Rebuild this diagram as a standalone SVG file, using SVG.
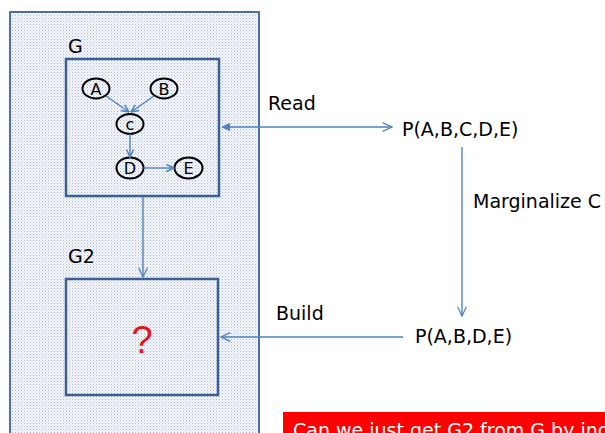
<svg xmlns="http://www.w3.org/2000/svg" width="605" height="433" viewBox="0 0 605 433">
<defs>
<pattern id="dots" width="3" height="3" patternUnits="userSpaceOnUse">
<rect width="3" height="3" fill="#f4f6fa"/>
<rect x="0" y="0" width="1" height="1" fill="#a9bad6"/>
<rect x="1.5" y="1.5" width="1" height="1" fill="#c6d2e6"/>
</pattern>
<marker id="open" viewBox="0 0 10 10" refX="9.5" refY="5" markerWidth="10" markerHeight="10" markerUnits="userSpaceOnUse" orient="auto">
<path d="M2,1.5 L9.5,5 L2,8.5" fill="none" stroke="#4f81bd" stroke-width="1.5"/>
</marker>
<marker id="openL" viewBox="0 0 10 10" refX="9.5" refY="5" markerWidth="11" markerHeight="11" markerUnits="userSpaceOnUse" orient="auto">
<path d="M1,1 L9.5,5 L1,9" fill="none" stroke="#4f81bd" stroke-width="1.1"/>
</marker>
<marker id="start" viewBox="0 0 10 10" refX="0.5" refY="5" markerWidth="9" markerHeight="9" markerUnits="userSpaceOnUse" orient="auto">
<path d="M9,1 L0.5,5 L9,9 Z" fill="#4f81bd" stroke="#4f81bd" stroke-width="1"/>
</marker>
</defs>
<style>
.t{font-family:"DejaVu Sans","Liberation Sans",sans-serif;font-size:19px;fill:#000}
.n{font-family:"DejaVu Sans","Liberation Sans",sans-serif;font-size:16px;fill:#000;text-anchor:middle}
.box{fill:none;stroke:#3d5f91;stroke-width:2.5}
.node{fill:none;stroke:#000;stroke-width:2}
.c{fill:none;stroke:#4f81bd;stroke-width:1.4}
</style>
<rect id="outer" x="10" y="12" width="249" height="440" fill="url(#dots)" stroke="#4f6fa0" stroke-width="2"/>
<g id="G">
<text class="t" x="68" y="53">G</text>
<rect class="box" x="66" y="59" width="153" height="137"/>
</g>
<g id="nodeA"><ellipse class="node" cx="96" cy="88.5" rx="13.5" ry="10"/><text class="n" x="96" y="94.5">A</text></g>
<g id="nodeB"><ellipse class="node" cx="164" cy="88.5" rx="13.5" ry="10"/><text class="n" x="164" y="94.5">B</text></g>
<g id="nodeC"><ellipse class="node" cx="130" cy="124" rx="13.5" ry="10"/><text class="n" x="130" y="130">c</text></g>
<g id="nodeD"><ellipse class="node" cx="130" cy="168" rx="13.5" ry="10.5"/><text class="n" x="130" y="174">D</text></g>
<g id="nodeE"><ellipse class="node" cx="188.5" cy="168" rx="14" ry="10.5"/><text class="n" x="188.5" y="174">E</text></g>
<g id="G2">
<text class="t" x="68" y="263">G2</text>
<rect class="box" x="66" y="279" width="152" height="116"/>
<text x="142" y="353" text-anchor="middle" font-family="Liberation Sans, sans-serif" font-size="38" fill="#e8141c">?</text>
</g>
<g id="PABCDE"><text class="t" x="402" y="136">P(A,B,C,D,E)</text></g>
<g id="PABDE"><text class="t" x="415" y="343">P(A,B,D,E)</text></g>
<g id="labels">
<text class="t" x="268" y="110">Read</text>
<text class="t" x="473" y="208">Marginalize C</text>
<text class="t" x="276" y="320">Build</text>
</g>
<g id="connectors">
<line class="c" x1="106" y1="96" x2="129" y2="112" marker-end="url(#open)"/>
<line class="c" x1="154" y1="96" x2="131" y2="112" marker-end="url(#open)"/>
<line class="c" x1="130" y1="134" x2="130" y2="157" marker-end="url(#open)"/>
<line class="c" x1="143.5" y1="168" x2="174" y2="168" marker-end="url(#open)"/>
<line class="c" x1="143" y1="197" x2="143" y2="277" marker-end="url(#openL)"/>
<line class="c" x1="222" y1="127" x2="392" y2="127" marker-start="url(#start)" marker-end="url(#openL)"/>
<line class="c" x1="462" y1="147" x2="462" y2="316" marker-end="url(#openL)"/>
<line class="c" x1="403" y1="337" x2="221" y2="337" marker-end="url(#openL)"/>
</g>
<g id="note">
<rect x="283" y="412" width="330" height="30" fill="#ff0000"/>
<text x="293" y="437" font-family="DejaVu Sans, Liberation Sans, sans-serif" font-size="19" fill="#fff">Can we just get G2 from G by ing</text>
</g>
</svg>
